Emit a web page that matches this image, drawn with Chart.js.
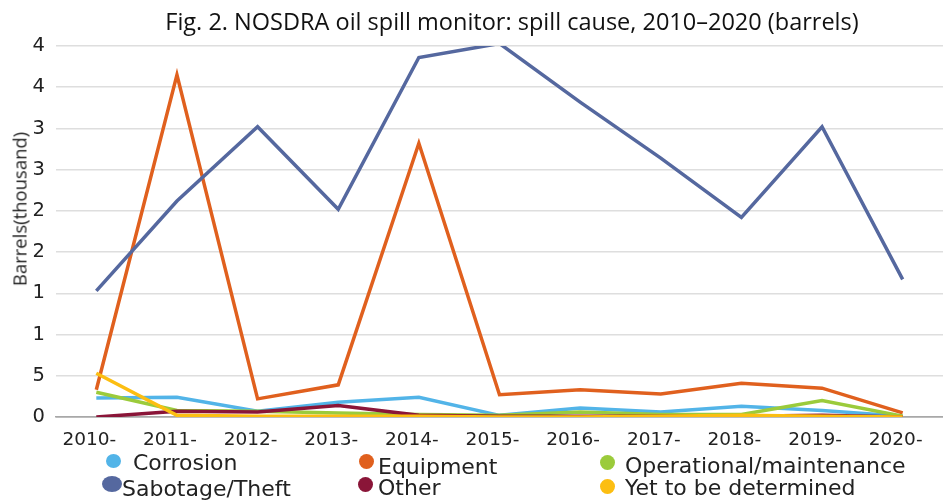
<!DOCTYPE html>
<html>
<head>
<meta charset="utf-8">
<script src="https://cdn.jsdelivr.net/npm/chart.js@4.4.0/dist/chart.umd.min.js"></script>
<style>
    html, body { margin: 0; padding: 0; background: #fff; }
    #wrap { position: relative; width: 943px; height: 501px; overflow: hidden; }
    #title { position: absolute; left: 0; width: 1024px; top: 5px; text-align: center;
             font: 23.5px "Open Sans", sans-serif; color: #111; white-space: nowrap; }
    #ytitle { position: absolute; left: 19px; top: 209px; transform: translate(-50%, -50%) rotate(-90deg);
              font: 18.5px "Open Sans", sans-serif; color: #222; white-space: nowrap; }
    .lg { position: absolute; font: 22px "DejaVu Sans", sans-serif; color: #222; line-height: 22px; white-space: nowrap; }
    .dot { position: absolute; border-radius: 50%; }
</style>
</head>
<body>
<div id="wrap">
    <canvas id="c" width="943" height="501"></canvas>
    <div id="title">Fig. 2. NOSDRA oil spill monitor: spill cause, 2010–2020 (barrels)</div>
    <div id="ytitle">Barrels(thousand)</div>
    <div id="legend"></div>
</div>
<script>
// values in thousand barrels
const years = ['2010-', '2011-', '2012-', '2013-', '2014-', '2015-', '2016-', '2017-', '2018-', '2019-', '2020-'];
const corrosion   = [0.23, 0.24, 0.07, 0.18, 0.24, 0.02, 0.11, 0.06, 0.13, 0.08, 0.01];
const equipment   = [0.33, 4.15, 0.22, 0.39, 3.32, 0.27, 0.33, 0.28, 0.41, 0.35, 0.05];
const operational = [0.30, 0.08, 0.07, 0.05, 0.03, 0.02, 0.06, 0.03, 0.03, 0.20, 0.01];
const sabotage    = [1.53, 2.62, 3.52, 2.52, 4.36, 4.53, 3.82, 3.14, 2.42, 3.52, 1.67];
const other       = [0.00, 0.07, 0.06, 0.14, 0.02, 0.01, 0.01, 0.01, 0.01, 0.02, 0.00];
const yetToBe     = [0.53, 0.02, 0.01, 0.01, 0.01, 0.00, 0.00, 0.01, 0.02, 0.01, 0.00];
const seriesNames = ['Corrosion', 'Equipment', 'Operational/maintenance', 'Sabotage/Theft', 'Other', 'Yet to be determined'];
const yTickValues = [0, 0.5, 1, 1.5, 2, 2.5, 3, 3.5, 4, 4.5];
const yTickLabels = ['0', '5', '1', '1', '2', '2', '3', '3', '4', '4'];

(function () {
    const colors = ['#52b4e8', '#e0601e', '#9bcb3b', '#55689f', '#8a1538', '#fcbe12'];
    const values = [corrosion, equipment, operational, sabotage, other, yetToBe];

    const datasets = values.map(function (v, i) {
        return {
            label: seriesNames[i],
            data: v,
            borderColor: colors[i],
            backgroundColor: colors[i],
            borderWidth: 3.5,
            pointRadius: 0,
            tension: 0,
            order: 6 - i
        };
    });

    const ctx = document.getElementById('c').getContext('2d');
    new Chart(ctx, {
        type: 'line',
        data: { labels: years, datasets: datasets },
        options: {
            responsive: false,
            animation: false,
            layout: { padding: { top: 46, right: 0, left: 0, bottom: 0 } },
            plugins: {
                legend: { display: false },
                title: { display: false },
                tooltip: { enabled: false }
            },
            scales: {
                x: {
                    offset: true,
                    grid: { display: false, drawTicks: false },
                    border: { display: true, color: '#a8a8a8', width: 1.5 },
                    ticks: {
                        color: '#222',
                        font: { family: 'DejaVu Sans', size: 18.5 },
                        padding: 12,
                        labelOffset: -7,
                        maxRotation: 0,
                        autoSkip: false
                    },
                    afterFit: function (s) { s.height = 84; }
                },
                y: {
                    min: 0,
                    max: 4.5,
                    afterBuildTicks: function (s) {
                        s.ticks = yTickValues.map(function (v) { return { value: v }; });
                    },
                    grid: {
                        drawTicks: false,
                        lineWidth: 1.5,
                        color: function (c) { return c.tick && c.tick.value === 0 ? '#a8a8a8' : '#dedede'; }
                    },
                    border: { display: false },
                    ticks: {
                        color: '#222',
                        font: { family: 'DejaVu Sans', size: 19.5 },
                        padding: 11,
                        callback: function (v) {
                            const k = yTickValues.indexOf(v);
                            return k >= 0 ? yTickLabels[k] : '';
                        }
                    },
                    afterFit: function (s) { s.width = 56; }
                }
            }
        }
    });

    // legend placed like the figure: two rows, three columns
    const spots = [
        { dx: 113, dy: 461, dw: 15, dh: 14, tx: 133, base: 471 },
        { dx: 366, dy: 461, dw: 15, dh: 15, tx: 378, base: 475 },
        { dx: 607, dy: 462, dw: 15, dh: 15, tx: 625, base: 474 },
        { dx: 112, dy: 484, dw: 20, dh: 16, tx: 122, base: 497 },
        { dx: 365, dy: 484, dw: 15, dh: 15, tx: 378, base: 496 },
        { dx: 607, dy: 486, dw: 15, dh: 15, tx: 625, base: 496 }
    ];
    const lg = document.getElementById('legend');
    seriesNames.forEach(function (name, i) {
        const p = spots[i];
        const d = document.createElement('div');
        d.className = 'dot';
        d.style.left = (p.dx - p.dw / 2) + 'px';
        d.style.top = (p.dy - p.dh / 2) + 'px';
        d.style.width = p.dw + 'px';
        d.style.height = p.dh + 'px';
        d.style.background = colors[i];
        lg.appendChild(d);
        const t = document.createElement('div');
        t.className = 'lg';
        t.style.left = p.tx + 'px';
        t.style.top = (p.base - 18.6) + 'px';
        t.textContent = name;
        lg.appendChild(t);
    });
})();
</script>
</body>
</html>
